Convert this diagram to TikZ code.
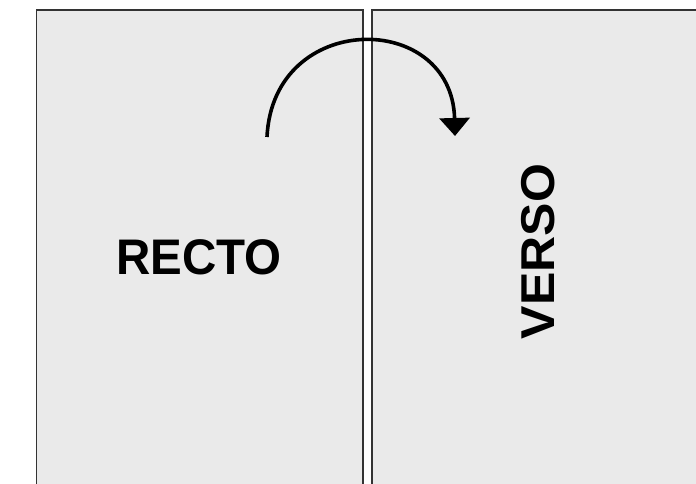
\documentclass[tikz,border=0pt]{standalone}
\usepackage{fontspec}
\setmainfont{Liberation Sans}
\usetikzlibrary{arrows.meta}
\definecolor{pagefill}{HTML}{EAEAEA}
\definecolor{pageline}{HTML}{333333}
\tikzset{
  page/.style={draw=pageline, line width=1.3pt, fill=pagefill},
  bigword/.style={font=\fontsize{50}{50}\selectfont\bfseries, inner sep=0pt, xscale=0.95},
  flip/.style={line width=3.6pt, -{Triangle[width=30pt,length=18pt]}}
}
\begin{document}
\begin{tikzpicture}[x=1pt,y=-1pt]
  \fill[white] (0,0) rectangle (696,484);
  \useasboundingbox (0,0) rectangle (696,484);
  \draw[page] (36.5,10) rectangle (363,500);
  \draw[page] (372,10) rectangle (710,500);
  \node[bigword] (recto) at (199,257) {RECTO};
  \node[bigword, rotate=90, xscale=1] (verso) at (538,251.5) {VERSO};
  \coordinate (s) at (267,137);
  \coordinate (e) at (455,136);
  \draw[flip] (s) .. controls (273,10) and (452,10) .. (e);
\end{tikzpicture}
\end{document}
